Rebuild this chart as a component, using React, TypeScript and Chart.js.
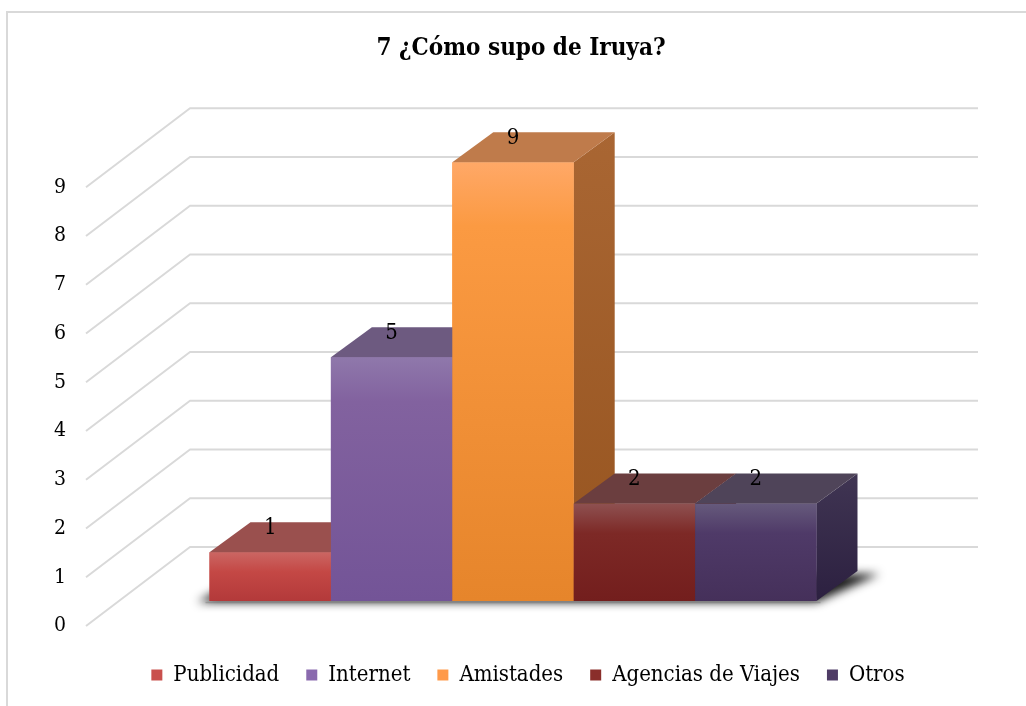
import React, { useEffect, useRef } from 'react';
import { Chart, registerables } from 'chart.js';

Chart.register(...registerables);

// ---- data ----
const chartTitle = '7 ¿Cómo supo de Iruya?';
const categories = ['Publicidad', 'Internet', 'Amistades', 'Agencias de Viajes', 'Otros'];
const counts = [1, 5, 9, 2, 2];
const axisMin = 0;
const axisMax = 9;
const axisStep = 1;

// ---- styles ----
const legendColors = ['#c9504d', '#8a6aae', '#ff9a4a', '#8a2e2b', '#4f3c66'];
const frontTop = ['#cb6663', '#8f78ab', '#ffa867', '#8e5151', '#665a7c'];
const frontMid = ['#c44845', '#82629f', '#fb9a42', '#7d2926', '#4f3a68'];
const frontBottom = ['#b3393a', '#735497', '#e6852b', '#731e1d', '#45305a'];
const topFaceColors = ['#9a504e', '#6d5a80', '#bf7b4b', '#6b3e3f', '#4f4459'];
const sideTop = ['#a0403d', '#6a4f88', '#a96633', '#5e2220', '#403553'];
const sideBottom = ['#8c302e', '#5a3f78', '#96541f', '#4e1a18', '#2c2040'];

const FONT_COND = '"DejaVu Serif Condensed", "DejaVu Serif"';
const GRID_COLOR = '#d9d9d9';

// 3D projection offsets (px), relative to the bar front plane
const barDepth = { dx: 41, dy: -30 };
const frontWall = { dx: -33, dy: 25 };
const backWall = { dx: 71, dy: -54 };

const threeDPlugin = {
  id: 'threeD',
  afterLayout(chart: any) {
    if (chart.legend) {
      chart.legend.left += 7;
      chart.legend.right += 7;
    }
  },
  beforeDraw(chart: any) {
    const ctx = chart.ctx;
    ctx.save();
    ctx.strokeStyle = GRID_COLOR;
    ctx.lineWidth = 2;
    ctx.beginPath();
    ctx.moveTo(7, chart.height + 5);
    ctx.lineTo(7, 12);
    ctx.lineTo(chart.width + 5, 12);
    ctx.stroke();
    ctx.restore();
  },
  beforeDatasetsDraw(chart: any) {
    const ctx = chart.ctx;
    const yScale = chart.scales.y;
    const { left, right } = chart.chartArea;
    ctx.save();
    ctx.strokeStyle = GRID_COLOR;
    ctx.lineWidth = 2;
    ctx.lineJoin = 'round';
    yScale.ticks.forEach((t: any) => {
      const py = yScale.getPixelForValue(t.value);
      ctx.beginPath();
      ctx.moveTo(left + frontWall.dx, py + frontWall.dy);
      ctx.lineTo(left + backWall.dx, py + backWall.dy);
      ctx.lineTo(right + backWall.dx, py + backWall.dy);
      ctx.stroke();
    });
    ctx.restore();

    // soft floor shadow under the bars (only the blurred shadow is painted)
    const n = chart.data.datasets.length;
    const first = chart.getDatasetMeta(0).data[0] as any;
    const last = chart.getDatasetMeta(n - 1).data[0] as any;
    const f = first.getProps(['x', 'base', 'width'], true);
    const l = last.getProps(['x', 'base', 'width'], true);
    const L = f.x - f.width / 2;
    const R = l.x + l.width / 2;
    const B = f.base;
    const off = 10000;
    ctx.save();
    ctx.shadowColor = 'rgba(0,0,0,0.9)';
    ctx.shadowBlur = 10;
    ctx.shadowOffsetX = off;
    ctx.shadowOffsetY = 1;
    ctx.fillStyle = '#000';
    ctx.beginPath();
    ctx.moveTo(L - 12 - off, B);
    ctx.lineTo(R - off, B);
    ctx.lineTo(R + barDepth.dx + 22 - off, B + barDepth.dy + 2);
    ctx.lineTo(L + barDepth.dx - off, B + barDepth.dy);
    ctx.closePath();
    ctx.fill();
    ctx.restore();

    // faint floor line under the front edge
    ctx.save();
    ctx.strokeStyle = 'rgba(120,120,120,0.45)';
    ctx.lineWidth = 1.5;
    ctx.beginPath();
    ctx.moveTo(L - 4, B + 1.5);
    ctx.lineTo(R + 4, B + 1.5);
    ctx.stroke();
    ctx.restore();
  },
  afterDatasetsDraw(chart: any) {
    const ctx = chart.ctx;
    const n = chart.data.datasets.length;
    const labelsToDraw: { x: number; y: number; text: string }[] = [];
    ctx.save();
    for (let i = 0; i < n; i++) {
      const el = chart.getDatasetMeta(i).data[0] as any;
      if (!el) continue;
      const { x, y, base, width } = el.getProps(['x', 'y', 'base', 'width'], true);
      const bl = x - width / 2;
      const br = x + width / 2;
      const top = y;
      const bottom = base;
      const { dx, dy } = barDepth;

      // right side face
      const sg = ctx.createLinearGradient(0, top + dy, 0, bottom);
      sg.addColorStop(0, sideTop[i]);
      sg.addColorStop(1, sideBottom[i]);
      ctx.fillStyle = sg;
      ctx.beginPath();
      ctx.moveTo(br, top);
      ctx.lineTo(br + dx, top + dy);
      ctx.lineTo(br + dx, bottom + dy);
      ctx.lineTo(br, bottom);
      ctx.closePath();
      ctx.fill();

      // front face
      const fg = ctx.createLinearGradient(0, top, 0, bottom);
      fg.addColorStop(0, frontTop[i]);
      fg.addColorStop(Math.min(0.4, 20 / Math.max(1, bottom - top) + 0.1), frontMid[i]);
      fg.addColorStop(1, frontBottom[i]);
      ctx.fillStyle = fg;
      ctx.fillRect(bl, top, br - bl, bottom - top);

      // top face
      ctx.fillStyle = topFaceColors[i];
      ctx.beginPath();
      ctx.moveTo(bl, top);
      ctx.lineTo(br, top);
      ctx.lineTo(br + dx, top + dy);
      ctx.lineTo(bl + dx, top + dy);
      ctx.closePath();
      ctx.fill();

      const v = chart.data.datasets[i].data[0];
      labelsToDraw.push({ x, y: top - 24, text: String(v) });
    }
    ctx.fillStyle = '#000';
    ctx.font = `22px ${FONT_COND}`;
    ctx.textAlign = 'center';
    ctx.textBaseline = 'middle';
    labelsToDraw.forEach((lb) => ctx.fillText(lb.text, lb.x, lb.y));
    ctx.restore();
  },
};

export default function App() {
  const canvasRef = useRef<HTMLCanvasElement | null>(null);

  useEffect(() => {
    if (!canvasRef.current) return;
    const chart = new Chart(canvasRef.current, {
      type: 'bar',
      data: {
        labels: [''],
        datasets: categories.map((c, i) => ({
          label: c,
          data: [counts[i]],
          backgroundColor: legendColors[i],
          borderWidth: 0,
          categoryPercentage: 0.7703,
          barPercentage: 1,
        })),
      },
      options: {
        responsive: false,
        animation: false,
        events: [],
        layout: { padding: { left: 16, right: 0, top: 0, bottom: 10 } },
        plugins: {
          title: {
            display: true,
            text: chartTitle,
            color: '#000',
            font: { family: FONT_COND, size: 24, weight: 'bold' },
            padding: { top: 34, bottom: 99.5 },
          },
          legend: {
            display: true,
            position: 'bottom',
            labels: {
              color: '#000',
              font: { family: FONT_COND, size: 22 },
              boxWidth: 11,
              boxHeight: 11,
              padding: 27,
            },
          },
          tooltip: { enabled: false },
        },
        scales: {
          x: {
            display: true,
            grid: { display: false, drawTicks: false },
            border: { display: false },
            ticks: { display: false },
            afterFit: (s: any) => {
              s.height = 36;
            },
          },
          y: {
            min: axisMin,
            max: axisMax,
            position: 'left',
            grid: { display: false, drawTicks: false },
            border: { display: false },
            ticks: {
              stepSize: axisStep,
              color: '#000',
              font: { family: FONT_COND, size: 21 },
              padding: 53,
              labelOffset: 25,
            },
            afterFit: (s: any) => {
              s.width = 103;
            },
          },
          y2: {
            type: 'linear',
            position: 'right',
            display: true,
            grid: { display: false, drawTicks: false },
            border: { display: false },
            ticks: { display: false },
            afterFit: (s: any) => {
              s.width = 119;
            },
          },
        },
      } as any,
      plugins: [threeDPlugin],
    });
    return () => chart.destroy();
  }, []);

  return (
    <div style={{ position: 'absolute', left: 0, top: 0, width: 1026, height: 706, background: '#fff' }}>
      <canvas ref={canvasRef} width={1026} height={706} style={{ display: 'block' }} />
    </div>
  );
}
